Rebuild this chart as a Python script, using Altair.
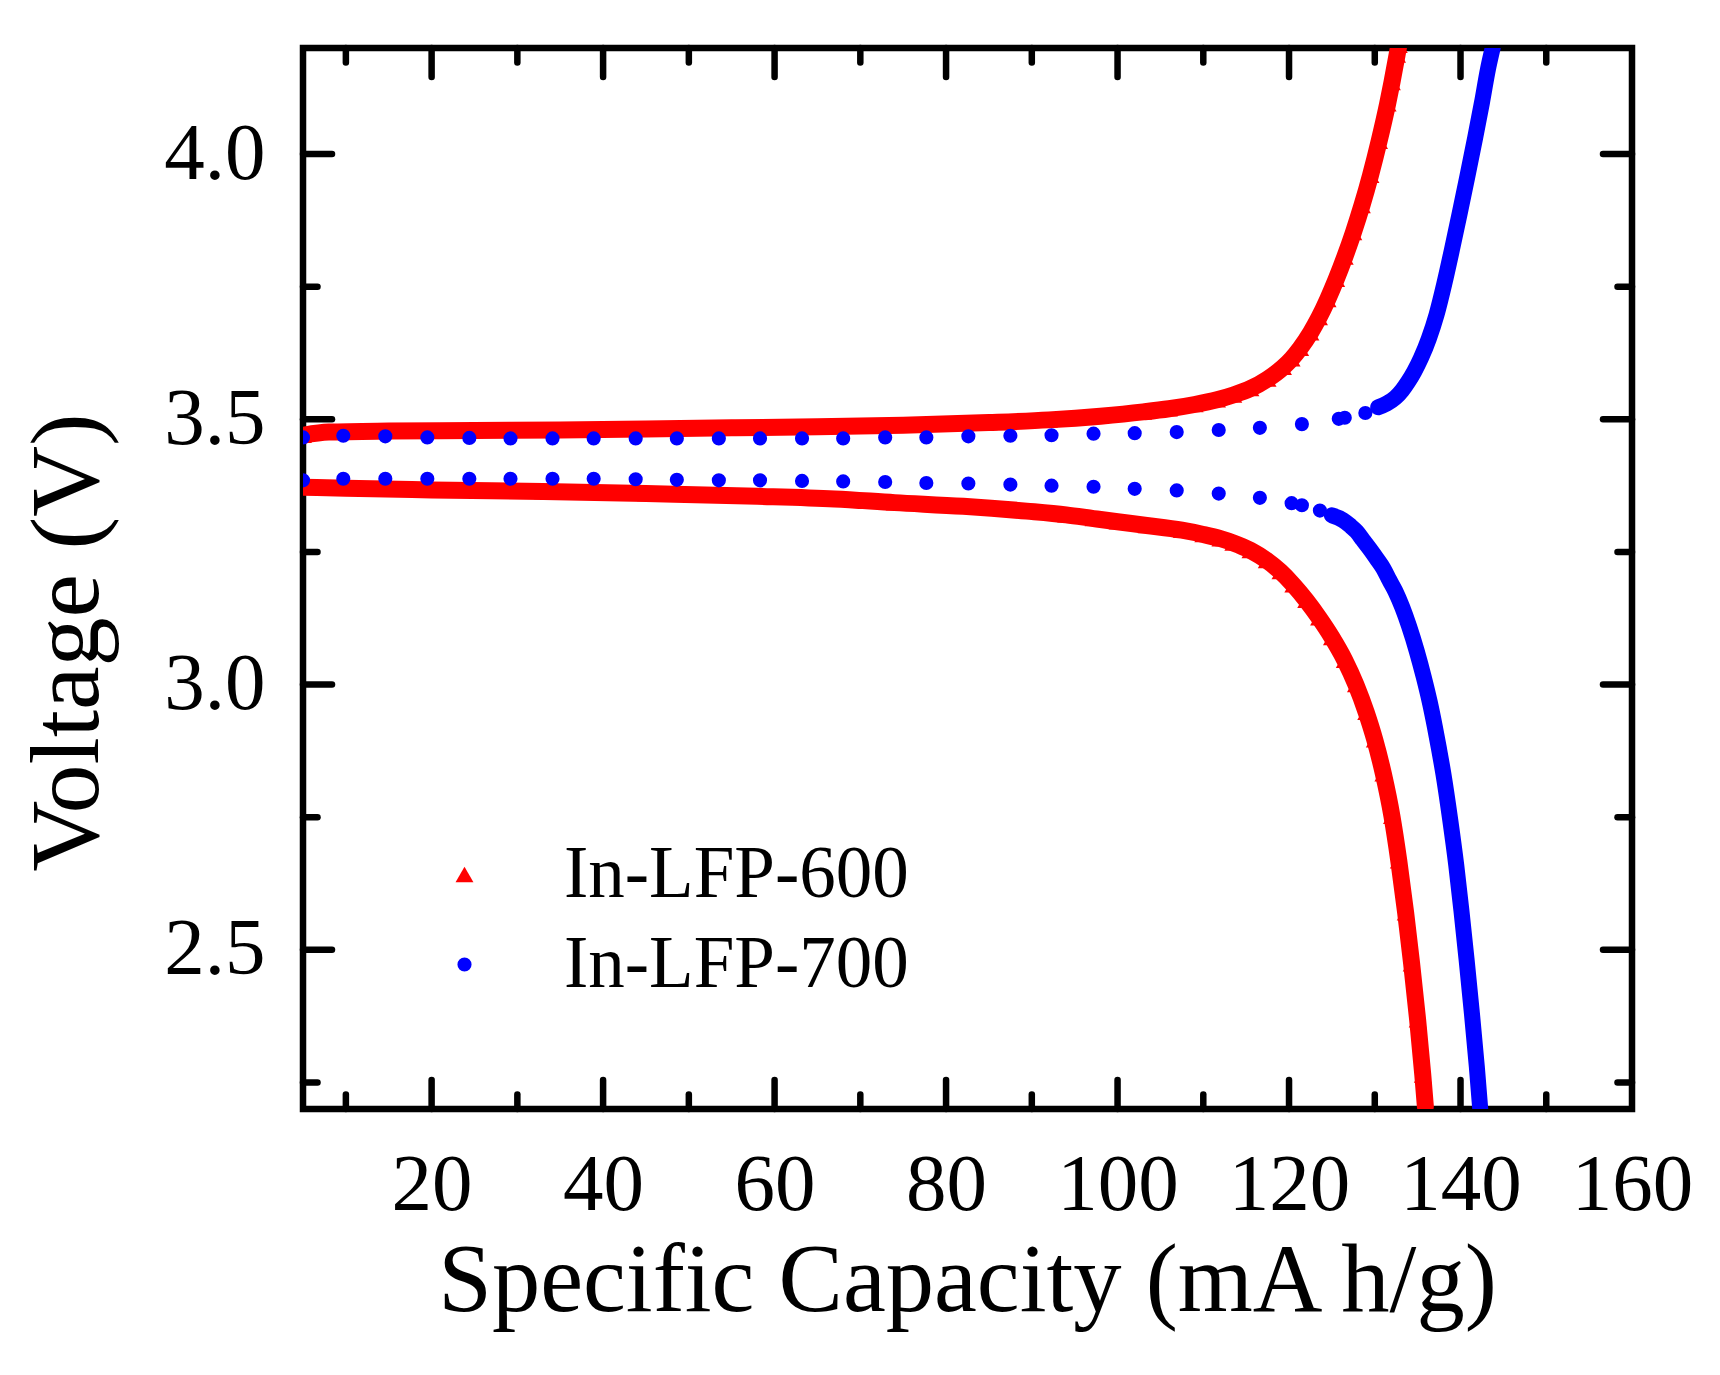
import altair as alt
import pandas as pd

# In-LFP-600 (red triangles), charge branch then discharge branch
red_chg_cap = [5.0, 8.0, 15.0, 25.0, 35.0, 45.0, 55.0, 65.0, 75.0, 85.0,
               92.0, 98.0, 103.0, 106.0, 109.0, 111.6, 113.5, 115.5, 117.5, 119.3,
               120.3, 121.3, 122.5, 123.5, 124.5, 125.5, 126.5, 127.5, 128.5, 129.5,
               130.5, 131.5, 132.0, 132.6, 132.8]
red_chg_v = [3.470, 3.476, 3.478, 3.479, 3.480, 3.482, 3.484, 3.486, 3.489, 3.494,
             3.499, 3.506, 3.514, 3.520, 3.528, 3.537, 3.546, 3.558, 3.576, 3.598,
             3.614, 3.634, 3.663, 3.692, 3.726, 3.764, 3.806, 3.852, 3.903, 3.960,
             4.024, 4.095, 4.135, 4.187, 4.205]
red_dis_cap = [5.0, 10.0, 20.0, 33.0, 45.0, 58.0, 67.0, 74.0, 82.0, 89.4,
               94.0, 97.2, 100.0, 103.4, 107.5, 110.0, 112.0, 113.5, 115.5, 117.4,
               119.0, 120.5, 122.0, 123.5, 125.0, 126.5, 127.8, 129.0, 130.0, 131.0,
               132.0, 132.8, 133.6, 134.3, 135.0, 135.6, 135.9]
red_dis_v = [3.372, 3.370, 3.367, 3.364, 3.360, 3.355, 3.350, 3.343, 3.336, 3.327,
             3.320, 3.313, 3.307, 3.300, 3.291, 3.283, 3.275, 3.267, 3.253, 3.234,
             3.213, 3.188, 3.159, 3.126, 3.089, 3.046, 3.000, 2.948, 2.896, 2.832,
             2.752, 2.668, 2.570, 2.474, 2.368, 2.264, 2.205]

# In-LFP-700 (blue circles)
blue_chg_cap = [5.0, 9.7, 14.6, 19.5, 24.4, 29.2, 34.1, 38.9, 43.8, 48.6,
                53.5, 58.3, 63.2, 68.0, 72.9, 77.7, 82.6, 87.5, 92.3, 97.2,
                102.0, 106.9, 111.8, 116.6, 121.5, 125.8, 126.5, 128.9, 130.4, 131.4,
                132.4, 133.2, 133.9, 134.6, 135.4, 136.3, 137.2, 138.1, 139.0, 139.9,
                140.8, 141.7, 142.5, 143.2, 143.75]
blue_chg_v = [3.466, 3.469, 3.468, 3.466, 3.465, 3.464, 3.464, 3.464, 3.464, 3.464,
              3.464, 3.464, 3.464, 3.464, 3.466, 3.466, 3.468, 3.469, 3.470, 3.473,
              3.474, 3.476, 3.480, 3.484, 3.491, 3.501, 3.503, 3.512, 3.523, 3.530,
              3.541, 3.555, 3.571, 3.590, 3.616, 3.652, 3.697, 3.755, 3.820, 3.888,
              3.958, 4.030, 4.097, 4.160, 4.200]
blue_dis_cap = [5.0, 9.7, 14.6, 19.5, 24.4, 29.2, 34.1, 38.9, 43.8, 48.6,
                53.5, 58.3, 63.2, 68.0, 72.9, 77.7, 82.6, 87.5, 92.3, 97.2,
                102.0, 106.9, 111.8, 116.6, 120.3, 121.5, 123.6, 125.0, 126.3, 127.1,
                127.9, 128.6, 129.4, 130.2, 131.0, 131.7, 132.4, 133.2, 134.0, 134.9,
                135.7, 136.4, 137.0, 137.5, 138.0, 138.8, 139.5, 140.1, 140.7, 141.3,
                141.9, 142.3]
blue_dis_v = [3.385, 3.388, 3.388, 3.388, 3.388, 3.388, 3.388, 3.388, 3.387, 3.386,
              3.385, 3.385, 3.384, 3.383, 3.382, 3.380, 3.379, 3.377, 3.375, 3.373,
              3.369, 3.366, 3.360, 3.352, 3.342, 3.338, 3.328, 3.319, 3.310, 3.300,
              3.288, 3.273, 3.256, 3.238, 3.219, 3.197, 3.176, 3.146, 3.110, 3.063,
              3.015, 2.968, 2.921, 2.878, 2.832, 2.745, 2.660, 2.575, 2.483, 2.385,
              2.280, 2.200]

series_names = ['In-LFP-600', 'In-LFP-700']
series_colors = ['#ff0000', '#0000ff']
series_shapes = ['triangle-up', 'circle']

x_labels = [20, 40, 60, 80, 100, 120, 140, 160]
x_major = [20, 40, 60, 80, 100, 120, 140]
x_minor = [10, 30, 50, 70, 90, 110, 130, 150]
y_labels = [2.5, 3.0, 3.5, 4.0]
y_minor = [2.25, 2.75, 3.25, 3.75]

# where the blue dots run together into a solid band
blue_joined_from = {'charge': 130.0, 'discharge': 125.0}

rows = []
for name, curve, caps, volts in [
    ('In-LFP-600', 'charge', red_chg_cap, red_chg_v),
    ('In-LFP-600', 'discharge', red_dis_cap, red_dis_v),
    ('In-LFP-700', 'charge', blue_chg_cap, blue_chg_v),
    ('In-LFP-700', 'discharge', blue_dis_cap, blue_dis_v),
]:
    for i, (c, v) in enumerate(zip(caps, volts)):
        rows.append({'series': name, 'curve': curve, 'idx': i, 'cap': c, 'v': v})
df = pd.DataFrame(rows)

W, H = 1329, 1061
FONT = 'Liberation Serif'
xs = alt.Scale(domain=[5, 160], nice=False, zero=False)
ys = alt.Scale(domain=[2.2, 4.2], nice=False, zero=False)

# the same axis objects go on every layer so that Vega-Lite merges them
ax_x = alt.Axis(
    values=x_labels, title='Specific Capacity (mA h/g)', ticks=False, tickSize=0,
    domain=False, grid=False, labelFont=FONT, labelFontSize=81, labelColor='black',
    labelPadding=36, labelFlush=False, labelOverlap=False, labelLimit=0,
    titleFont=FONT, titleFontSize=96.5, titleFontWeight='normal', titleColor='black',
    titleX=664, titleY=201, titleBaseline='alphabetic', titleAlign='center')
ax_y = alt.Axis(
    values=y_labels, format='.1f', title='Voltage (V)', ticks=False, tickSize=0,
    domain=False, grid=False, labelFont=FONT, labelFontSize=81, labelColor='black',
    labelPadding=38, labelFlush=False, labelOverlap=False, labelLimit=0,
    titleFont=FONT, titleFontSize=98, titleFontWeight='normal', titleColor='black',
    titleX=-206, titleY=594, titleBaseline='alphabetic', titleAlign='center')

X = alt.X('cap:Q', scale=xs, axis=ax_x)
Y = alt.Y('v:Q', scale=ys, axis=ax_y)

base = alt.Chart(df)

red_band = base.transform_filter(alt.datum.series == 'In-LFP-600').mark_line(
    color='#ff0000', strokeWidth=17, strokeCap='round', strokeJoin='round',
    interpolate='monotone', clip=True
).encode(x=X, y=Y, detail='curve:N', order='idx:Q')

blue_band = base.transform_filter(
    "datum.series == 'In-LFP-700' && datum.cap >= (datum.curve == 'charge' ? %s : %s)"
    % (blue_joined_from['charge'], blue_joined_from['discharge'])
).mark_line(
    color='#0000ff', strokeWidth=16, strokeCap='round', strokeJoin='round',
    interpolate='monotone', clip=True
).encode(x=X, y=Y, detail='curve:N', order='idx:Q')

pts = base.mark_point(filled=True, opacity=1, strokeWidth=0, clip=True).encode(
    x=X, y=Y,
    color=alt.Color('series:N', scale=alt.Scale(domain=series_names, range=series_colors),
                    legend=alt.Legend(title=None, orient='none', legendX=125, legendY=790,
                                      labelFont=FONT, labelFontSize=73, labelColor='black',
                                      labelOffset=63, rowPadding=16, padding=0, labelLimit=0,
                                      symbolStrokeWidth=0, symbolOpacity=1)),
    shape=alt.Shape('series:N', scale=alt.Scale(domain=series_names, range=series_shapes)),
    size=alt.Size('series:N', scale=alt.Scale(domain=series_names, range=[320, 200])),
    order='idx:Q'
)


def tick_marks(vals, side, length):
    d = pd.DataFrame({'cap': vals, 'v': vals})
    rule = alt.Chart(d).mark_rule(color='black', strokeWidth=6.5, strokeCap='round')
    if side == 'bottom':
        enc = dict(x=X, y=alt.value(H), y2=alt.value(H - length))
    elif side == 'top':
        enc = dict(x=X, y=alt.value(0), y2=alt.value(length))
    elif side == 'left':
        enc = dict(y=Y, x=alt.value(0), x2=alt.value(length))
    else:
        enc = dict(y=Y, x=alt.value(W), x2=alt.value(W - length))
    return rule.encode(**enc)


ticks = []
for side in ['bottom', 'top']:
    ticks.append(tick_marks(x_major, side, 29))
    ticks.append(tick_marks(x_minor, side, 14.5))
for side in ['left', 'right']:
    ticks.append(tick_marks(y_labels, side, 29))
    ticks.append(tick_marks(y_minor, side, 14.5))

chart = alt.layer(red_band, blue_band, pts, *ticks).properties(
    width=W, height=H,
    padding={'left': 295, 'top': 40, 'right': 80, 'bottom': 266},
    autosize=alt.AutoSizeParams(type='none'),
    background='white'
).configure(font=FONT).configure_view(stroke='black', strokeWidth=6.5)

chart.save('out.html', embed_options={'renderer': 'svg', 'actions': False})
